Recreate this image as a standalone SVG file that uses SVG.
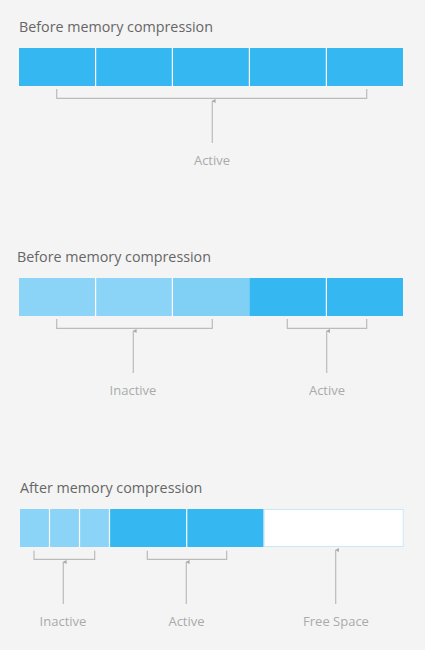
<svg xmlns="http://www.w3.org/2000/svg" width="425" height="650" viewBox="0 0 425 650">
<style>
.title{font-family:"Open Sans","Liberation Sans",sans-serif;font-size:14.3px;fill:#666}
.lbl{font-family:"Open Sans","Liberation Sans",sans-serif;font-size:13px;fill:#aaa;text-anchor:middle}
.act{fill:#35b8f2}
.ina{fill:#8bd4f7}
.ina2{fill:#80cff5}
.div{stroke:#fff;stroke-width:1.2}
.br{fill:none;stroke:#bbb;stroke-width:1.2}
.stem{stroke:#bbb;stroke-width:1.2;marker-start:url(#tip)}
</style>
<defs>
<marker id="tip" viewBox="0 0 6 6" refX="3" refY="1" markerWidth="4" markerHeight="4" markerUnits="userSpaceOnUse" orient="auto-start-reverse">
<path d="M3 0 L6 6 L0 6 Z" fill="#aaa"/>
</marker>
</defs>
<rect width="425" height="650" fill="#f4f4f4"/>

<g id="section1">
<text class="title" x="19" y="32">Before memory compression</text>
<g id="bar1">
<rect class="act" x="19" y="48" width="384" height="38"/>
<line class="div" x1="95.6" y1="48" x2="95.6" y2="86"/>
<line class="div" x1="172.4" y1="48" x2="172.4" y2="86"/>
<line class="div" x1="249.4" y1="48" x2="249.4" y2="86"/>
<line class="div" x1="326.4" y1="48" x2="326.4" y2="86"/>
</g>
<text class="lbl" x="212" y="165">Active</text>
</g>

<g id="section2">
<text class="title" x="17" y="262">Before memory compression</text>
<g id="bar2">
<rect class="ina" x="19" y="278" width="154" height="38"/>
<rect class="ina2" x="172.4" y="278" width="77" height="38"/>
<rect class="act" x="249.4" y="278" width="153.6" height="38"/>
<line class="div" x1="95.6" y1="278" x2="95.6" y2="316"/>
<line class="div" x1="172.4" y1="278" x2="172.4" y2="316"/>
<line class="div" x1="326.4" y1="278" x2="326.4" y2="316"/>
</g>
<text class="lbl" x="133" y="395">Inactive</text>
<text class="lbl" x="327" y="395">Active</text>
</g>

<g id="section3">
<text class="title" x="20" y="493">After memory compression</text>
<g id="bar3">
<rect class="ina" x="20" y="509" width="89" height="38"/>
<rect class="act" x="109.5" y="509" width="154" height="38"/>
<rect x="264.2" y="509.5" width="139" height="37" fill="#fff" stroke="#c9e8f7" stroke-width="1"/>
<line class="div" x1="49.5" y1="509" x2="49.5" y2="547"/>
<line class="div" x1="79.5" y1="509" x2="79.5" y2="547"/>
<line class="div" x1="109.5" y1="509" x2="109.5" y2="547"/>
<line class="div" x1="186.7" y1="509" x2="186.7" y2="547"/>
</g>
<text class="lbl" x="63" y="626">Inactive</text>
<text class="lbl" x="186.5" y="626">Active</text>
<text class="lbl" x="336" y="626">Free Space</text>
</g>

<g id="connectors">
<path class="br" d="M56.7 89 V98.3 H366.7 V89"/>
<line class="stem" x1="212.3" y1="101" x2="212.3" y2="143"/>

<path class="br" d="M56.7 319 V328.3 H212.3 V319"/>
<line class="stem" x1="133.3" y1="331" x2="133.3" y2="373"/>
<path class="br" d="M287.3 319 V328.3 H366.7 V319"/>
<line class="stem" x1="326.7" y1="331" x2="326.7" y2="373"/>

<path class="br" d="M34 550.7 V559.3 H94.7 V550.7"/>
<line class="stem" x1="63.3" y1="562" x2="63.3" y2="604"/>
<path class="br" d="M147.3 550.7 V559.3 H226.7 V550.7"/>
<line class="stem" x1="186.3" y1="562" x2="186.3" y2="604"/>
<line class="stem" x1="335.7" y1="550" x2="335.7" y2="604"/>
</g>
</svg>
